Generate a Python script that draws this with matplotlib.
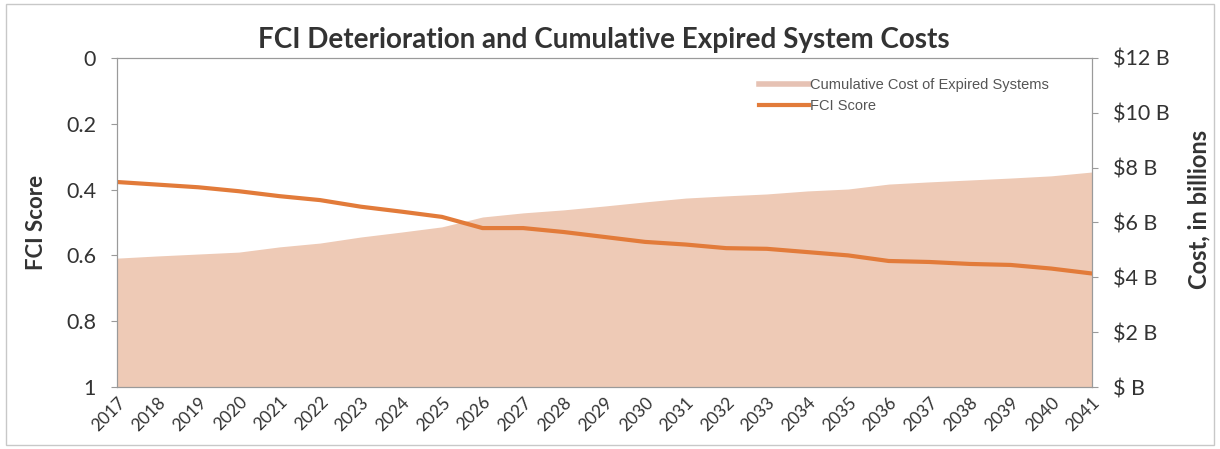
import numpy as np
import matplotlib
matplotlib.use("Agg")
from matplotlib import pyplot as plt
from matplotlib.ticker import FixedLocator, FuncFormatter
from matplotlib.lines import Line2D

# data
years = list(range(2017, 2042))
fci_score = [0.377, 0.385, 0.393, 0.405, 0.42, 0.432, 0.452, 0.467, 0.483,
             0.517, 0.517, 0.529, 0.544, 0.559, 0.567, 0.578, 0.58, 0.59,
             0.60, 0.617, 0.62, 0.626, 0.629, 0.64, 0.655]
cum_cost_b = [4.7, 4.78, 4.85, 4.92, 5.11, 5.25, 5.47, 5.65, 5.84,
              6.2, 6.35, 6.46, 6.6, 6.75, 6.89, 6.97, 7.04, 7.15,
              7.22, 7.4, 7.48, 7.55, 7.62, 7.7, 7.84]
fci_ticks = [0, 0.2, 0.4, 0.6, 0.8, 1]
cost_ticks = [0, 2, 4, 6, 8, 10, 12]

AREA = "#eecab6"
LINE = "#e27b3a"
GREY = "#9a9a9a"
TXT = "#333333"

fig = plt.figure(figsize=(12.2, 4.49), dpi=100)
fig.patches.append(plt.Rectangle((0.005, 0.008), 0.99, 0.984, transform=fig.transFigure,
                                 fill=False, edgecolor="#c8c8c8", lw=1))

ax2 = fig.add_axes([0.0959, 0.138, 0.799, 0.733])   # cost axis (right), drawn behind
ax = ax2.twinx()
ax.yaxis.tick_left()
ax.yaxis.set_label_position("left")
ax2.yaxis.tick_right()
ax2.yaxis.set_label_position("right")

ax2.fill_between(years, cum_cost_b, 0, color=AREA, lw=0, label="Cumulative Cost of Expired Systems")
ax2.set_ylim(0, 12)
ax2.yaxis.set_major_locator(FixedLocator(cost_ticks))
ax2.yaxis.set_major_formatter(FuncFormatter(lambda v, p: "$ B" if v == 0 else f"${int(v)} B"))
ax2.set_ylabel("Cost, in billions", fontsize=17, fontweight="bold", family="Lato", color=TXT)
ax2.yaxis.set_label_coords(1.098, 0.54)

ax.plot(years, fci_score, color=LINE, lw=3, label="FCI Score")
ax.set_ylim(1, 0)
ax.yaxis.set_major_locator(FixedLocator(fci_ticks))
ax.yaxis.set_major_formatter(FuncFormatter(lambda v, p: f"{v:g}"))
ax.set_ylabel("FCI Score", fontsize=16, fontweight="bold", family="Lato", color=TXT)
ax.yaxis.set_label_coords(-0.072, 0.5)

ax2.set_xlim(2017, 2041)
ax2.set_xticks(years)
ax2.set_xticklabels([str(y) for y in years], rotation=45, ha="right", rotation_mode="anchor",
                    fontsize=12.5, family="Lato", color=TXT)

for a in (ax, ax2):
    for s in a.spines.values():
        s.set_color(GREY)
        s.set_linewidth(0.8)
    a.tick_params(axis="y", labelsize=15.5, colors=TXT, length=4, pad=11, color=GREY)
    for lab in a.get_yticklabels():
        lab.set_family("Lato")
ax2.tick_params(axis="x", length=0, pad=5)

h1 = [Line2D([], [], color="#e6c2b4", lw=4)]
h2, l2 = ax.get_legend_handles_labels()
leg = ax.legend(h1 + h2, ["Cumulative Cost of Expired Systems"] + l2, loc="upper right",
                bbox_to_anchor=(0.956, 0.94), frameon=False, borderaxespad=0, borderpad=0,
                prop={"family": "Liberation Sans", "size": 10.5}, handlelength=3.4,
                handletextpad=0.1, labelspacing=0.5)
for t in leg.get_texts():
    t.set_color("#555555")

fig.text(0.495, 0.893, "FCI Deterioration and Cumulative Expired System Costs", ha="center",
         va="baseline", fontsize=20, fontweight="bold", family="Lato", color=TXT)

fig.savefig("out.png", dpi=100)
